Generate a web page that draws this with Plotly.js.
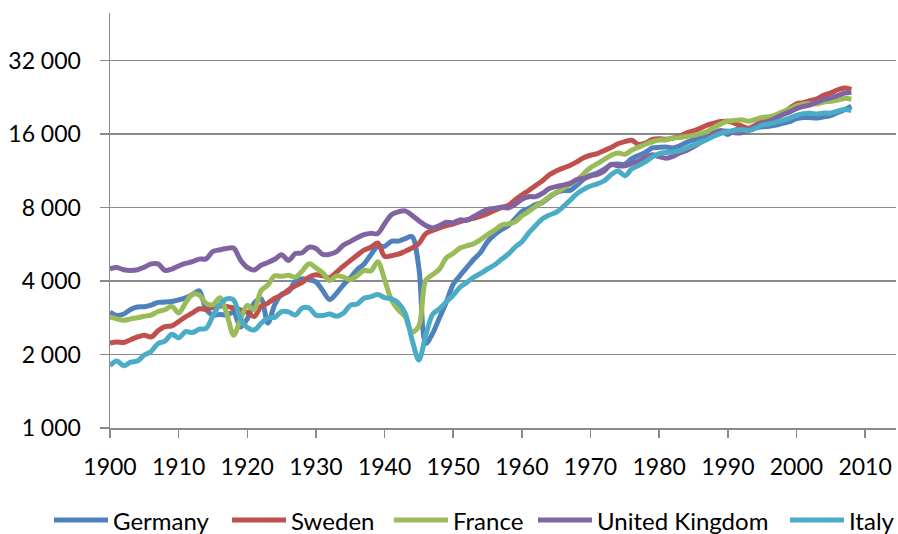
<!DOCTYPE html>
<html>
<head>
<meta charset="utf-8">
<script src="https://cdn.plot.ly/plotly-3.0.1.min.js"></script>
<style>html,body{margin:0;padding:0;background:#fff;}#chart{width:898px;height:534px;}</style>
</head>
<body>
<div id="chart"></div>
<script>
const startYear = 1900;
const endYear = 2008;
const years = [];
for (let y = startYear; y <= endYear; y++) years.push(y);

const seriesNames = ["Germany", "Sweden", "France", "United Kingdom", "Italy"];
const seriesColors = ["#4F81BD", "#C0504D", "#9BBB59", "#8064A2", "#4BACC6"];

const germany = [
2985,2890,2930,3060,3130,3140,3190,3270,3280,3300,
3350,3410,3520,3650,3060,2900,2920,2900,2980,2590,
2800,3250,3380,2690,3200,3530,3620,3990,4090,4050,
3970,3650,3360,3560,3860,4120,4450,4690,5130,5550,
5550,5820,5830,5970,6080,4510,2220,2440,2830,3280,
3880,4210,4550,4910,5250,5800,6180,6490,6740,7180,
7710,7950,8220,8390,8820,9190,9390,9400,9860,10440,
10840,11080,11480,11970,12060,12040,12680,13070,13460,14030,
14110,14150,14040,14330,14790,15140,15470,15700,16210,16560,
15930,16600,16850,16570,16910,17120,17210,17420,17710,17980,
18500,18700,18680,18620,18840,19040,19610,20110,20800];

const sweden = [
2230,2250,2240,2300,2360,2400,2360,2500,2600,2620,
2730,2850,2960,3080,3060,3120,3160,3150,3100,3050,
2980,2860,3150,3250,3400,3500,3680,3820,3950,4150,
4240,4200,4130,4350,4600,4850,5100,5350,5500,5730,
5050,5080,5150,5300,5460,5700,6250,6450,6600,6750,
6850,7000,7130,7230,7380,7550,7780,8000,8150,8600,
9000,9400,9850,10300,10900,11300,11600,11900,12300,12800,
13100,13300,13700,14100,14600,14900,15100,14500,14700,15200,
15300,15250,15400,15700,16200,16500,16900,17400,17750,18000,
18050,17700,17300,16900,17400,18000,18300,18800,19500,20400,
21300,21500,21900,22300,23100,23600,24300,24700,24400];

const france = [
2850,2800,2760,2800,2830,2870,2900,3000,3050,3150,
2960,3250,3530,3500,3240,3200,3420,2950,2400,2780,
3180,3050,3650,3850,4200,4180,4220,4150,4400,4710,
4530,4320,4020,4200,4150,4060,4200,4420,4400,4800,
4050,3350,3050,2850,2470,2620,4030,4250,4480,4980,
5190,5460,5580,5690,5920,6200,6450,6760,6860,6990,
7400,7720,8080,8430,8880,9200,9590,9970,10350,11000,
11660,12100,12600,13110,13390,13230,13740,14140,14530,14880,
15110,15140,15410,15500,15630,15800,16070,16380,17040,17610,
18090,18180,18330,18070,18370,18720,18840,19160,19760,20260,
20870,21200,21300,21300,21650,21800,22050,22400,22220];

const unitedKingdom = [
4490,4540,4450,4420,4450,4560,4700,4700,4420,4480,
4610,4720,4800,4920,4930,5290,5370,5440,5460,4880,
4550,4440,4640,4760,4910,5130,4860,5180,5220,5500,
5440,5140,5150,5280,5610,5800,6020,6200,6270,6260,
6860,7480,7680,7750,7430,7060,6750,6600,6750,6960,
6940,7120,7090,7350,7620,7870,7930,8020,7970,8240,
8650,8860,8870,9150,9570,9750,9890,10050,10410,10550,
10770,10940,11290,12030,11860,11850,12120,12380,12830,13170,
12930,12750,12960,13400,13720,14170,14740,15390,16110,16410,
16430,16180,16190,16540,17230,17660,18090,18630,19200,19720,
20350,20760,21080,21620,22170,22540,23000,23530,23740];

const italy = [
1800,1880,1800,1860,1880,1990,2060,2220,2270,2420,
2340,2480,2460,2540,2560,2880,3200,3380,3350,2800,
2580,2520,2680,2830,2840,3000,2990,2900,3100,3100,
2900,2890,2930,2870,2950,3180,3220,3400,3450,3520,
3420,3380,3250,2950,2300,1900,2400,2920,3080,3290,
3500,3780,3950,4150,4300,4480,4650,4900,5150,5500,
5800,6300,6750,7200,7450,7650,8050,8550,9100,9500,
9800,10000,10300,10900,11300,10800,11500,11900,12300,12900,
13300,13450,13500,13700,14000,14400,14800,15200,15700,16100,
16400,16550,16700,16550,16900,17400,17600,17900,18200,18600,
19100,19400,19450,19350,19500,19500,19850,20150,19950];

const yTickValues = [1000, 2000, 4000, 8000, 16000, 32000];
const yTickLabels = ["1 000", "2 000", "4 000", "8 000", "16 000", "32 000"];

const seriesValues = [germany, sweden, france, unitedKingdom, italy];

const FONT = "Lato, 'Liberation Sans', Arial, sans-serif";
const W = 898, H = 534;
const M = {l: 110, r: 2, t: 13, b: 106};
const plotW = W - M.l - M.r, plotH = H - M.t - M.b;
const px2x = p => (p - M.l) / plotW;
const py2y = p => (H - M.b - p) / plotH;

const traces = seriesNames.map((name, i) => ({
  type: "scatter",
  mode: "lines",
  name: name,
  x: years,
  y: seriesValues[i],
  line: {color: seriesColors[i], width: 5, shape: "spline", smoothing: 0.9},
  hoverinfo: "x+y+name"
}));

// Legend drawn as shapes + annotations, in one row below the chart
const legendLineStart = [54, 232, 394, 538, 790];
const legendLineLen = 54;
const legendY = 520;
const shapes = [];
const annotations = [];
seriesNames.forEach((name, i) => {
  shapes.push({
    type: "line", xref: "paper", yref: "paper",
    x0: px2x(legendLineStart[i]), x1: px2x(legendLineStart[i] + legendLineLen),
    y0: py2y(legendY), y1: py2y(legendY),
    line: {color: seriesColors[i], width: 5}
  });
  annotations.push({
    xref: "paper", yref: "paper",
    x: px2x(legendLineStart[i] + legendLineLen + 3), y: py2y(legendY),
    xanchor: "left", yanchor: "middle",
    text: name, showarrow: false,
    font: {family: FONT, size: 24, color: "#000000"}
  });
});

const layout = {
  width: W,
  height: H,
  margin: M,
  paper_bgcolor: "#ffffff",
  plot_bgcolor: "#ffffff",
  font: {family: FONT, size: 23, color: "#000000"},
  showlegend: false,
  shapes: shapes,
  annotations: annotations,
  xaxis: {
    type: "linear",
    range: [1900, 2014.5],
    tick0: 1900,
    dtick: 10,
    showgrid: false,
    zeroline: false,
    showline: true,
    linecolor: "#8a8a8a",
    linewidth: 1.5,
    ticks: "outside",
    ticklen: 8,
    tickwidth: 1.5,
    tickcolor: "#8a8a8a",
    ticklabelstandoff: 10,
    tickfont: {family: FONT, size: 23, color: "#000000"}
  },
  yaxis: {
    type: "log",
    range: [3, 4.7],
    tickvals: yTickValues,
    ticktext: yTickLabels,
    showgrid: true,
    gridcolor: "#8a8a8a",
    gridwidth: 1.5,
    zeroline: false,
    showline: true,
    linecolor: "#8a8a8a",
    linewidth: 1.5,
    ticks: "outside",
    ticklen: 9,
    tickwidth: 1.5,
    tickcolor: "#8a8a8a",
    ticklabelstandoff: 14,
    tickfont: {family: FONT, size: 23, color: "#000000"}
  }
};

Plotly.newPlot("chart", traces, layout, {displayModeBar: false, staticPlot: true});
</script>
</body>
</html>
